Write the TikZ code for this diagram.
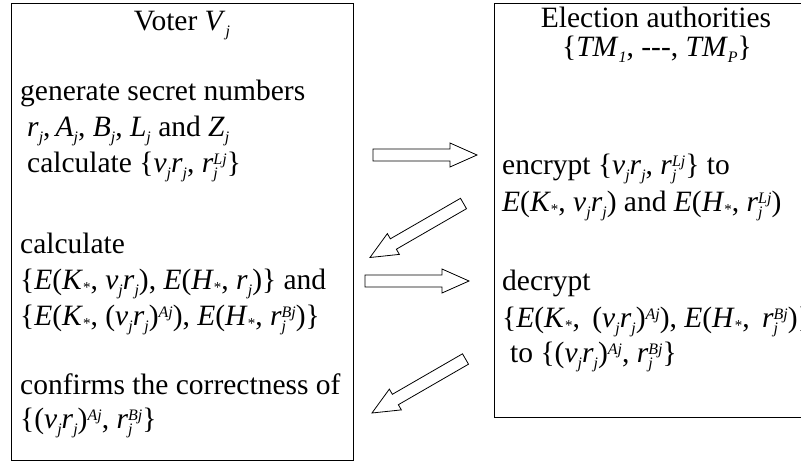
\documentclass[tikz,border=0pt]{standalone}
\usepackage{fontspec}
\setmainfont{Liberation Serif}

% italic symbols with small italic indices
\newcommand{\idx}{\fontsize{16}{16}\selectfont\itshape}
\newcommand{\mi}[1]{\textit{#1}}
\newcommand{\lo}[1]{\raisebox{-6pt}{\idx #1}}
\newcommand{\st}{\raisebox{-3pt}{\fontsize{15}{15}\selectfont *}}
\newcommand{\hi}[1]{\raisebox{8pt}{\idx #1}}
\newcommand{\lohi}[2]{\makebox[0pt][l]{\lo{#1}}\hi{#2}}
\newcommand{\vr}{\mi{v}\lo{j}\mi{r}\lo{j}}

\begin{document}
\begin{tikzpicture}[x=1pt,y=-1pt,
  txt/.style={inner sep=0pt,anchor=base west,font=\fontsize{29.5}{36}\selectfont},
  ctxt/.style={txt,anchor=base},
  panel/.style={draw,line width=1pt},
  arrowline/.style={draw,line width=0.8pt,fill=white,line join=miter},
  pics/blockarrow/.style={code={
    \path[arrowline] (0,-6) -- ({#1-27},-6) -- ({#1-27},-12) -- (#1,0)
      -- ({#1-27},12) -- ({#1-27},6) -- (0,6) -- cycle;}}
]
\useasboundingbox (0,0) rectangle (801,464);

% the two parties
\draw[panel] (11,3) rectangle (353,460);
\draw[panel] (494,3) -- (494,417) -- (820,417);
\draw[panel] (494,3) -- (820,3);

% voter side
\node[ctxt] (vt) at (182,30) {Voter \mi{V}\lo{j}};
\node[txt] (v1) at (20,100) {generate secret numbers};
\node[txt] (v2) at (27,136) {\mi{r}\lo{j},\,\mi{A}\lo{j}, \mi{B}\lo{j}, \mi{L}\lo{j} and \mi{Z}\lo{j}};
\node[txt] (v3) at (27,172) {calculate \{\vr, \mi{r}\lohi{j}{Lj}\}};
\node[txt] (v4) at (20,253) {calculate};
\node[txt] (v5) at (20,289) {\{\mi{E}(\mi{K}\st, \vr), \mi{E}(\mi{H}\st, \mi{r}\lo{j})\} and};
\node[txt] (v6) at (20,325) {\{\mi{E}(\mi{K}\st, (\vr)\hi{Aj}), \mi{E}(\mi{H}\st, \mi{r}\lohi{j}{Bj})\}};
\node[txt] (v7) at (20,394) {confirms the correctness of};
\node[txt] (v8) at (20,428) {\{(\vr)\hi{Aj}, \mi{r}\lohi{j}{Bj}\}};

% authority side
\node[ctxt] (et) at (656,27) {Election authorities};
\node[ctxt] (em) at (657,56) {\{\mi{TM}\lo{1}, -{}-{}-, \mi{TM}\lo{P}\}};
\node[txt] (e1) at (502,174) {encrypt \{\vr, \mi{r}\lohi{j}{Lj}\} to};
\node[txt] (e2) at (502,211) {\mi{E}(\mi{K}\st, \vr) and \mi{E}(\mi{H}\st, \mi{r}\lohi{j}{Lj})};
\node[txt] (e3) at (502,290) {decrypt};
\node[txt] (e4) at (502,327) {\{\mi{E}(\mi{K}\st,\hspace{5pt} (\vr)\hi{Aj}), \mi{E}(\mi{H}\st,\hspace{5pt} \mi{r}\lohi{j}{Bj})\}};
\node[txt] (e5) at (510,362) {to \{(\vr)\hi{Aj}, \mi{r}\lohi{j}{Bj}\}};

% messages between the parties
\pic at (373,155) {blockarrow=104};
\pic[rotate=210] at (463.5,203.5) {blockarrow=108};
\pic at (365,281) {blockarrow=104};
\pic[rotate=210] at (465.5,359) {blockarrow=108};
\end{tikzpicture}
\end{document}
